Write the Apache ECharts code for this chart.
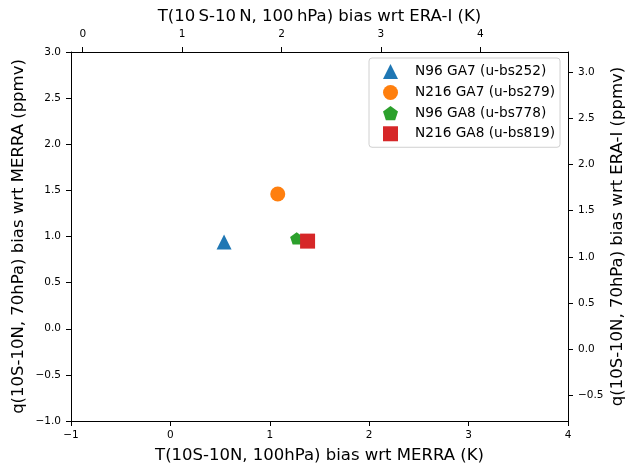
<!DOCTYPE html>
<html>
<head>
<meta charset="utf-8">
<script src="https://cdn.jsdelivr.net/npm/echarts@6/dist/echarts.min.js"></script>
<style>
html, body { margin: 0; padding: 0; background: #fff; }
#chart { width: 636px; height: 475px; }
</style>
</head>
<body>
<div id="chart"></div>
<script>
// runs: name, T bias wrt MERRA (K), q bias wrt MERRA (ppmv)
var runNames = ['N96 GA7 (u-bs252)', 'N216 GA7 (u-bs279)', 'N96 GA8 (u-bs778)', 'N216 GA8 (u-bs819)'];
var tBias = [0.54, 1.08, 1.27, 1.38];
var qBias = [0.94, 1.46, 0.98, 0.95];
var runColors = ['#1f77b4', '#ff7f0e', '#2ca02c', '#d62728'];
var pentagon = 'path://M0,-1L0.951,-0.309L0.588,0.809L-0.588,0.809L-0.951,-0.309Z';
var runSymbols = ['triangle', 'circle', pentagon, 'rect'];
var runSizes = [15, 15, 13, 15];

// secondary axes (ERA-I) ticks
var topTicks = [0, 1, 2, 3, 4];
var rightTicks = [-0.5, 0, 0.5, 1.0, 1.5, 2.0, 2.5, 3.0];

var FONT = 'DejaVu Sans';
var minus = function(s) { return String(s).replace('-', '\u2212'); };

var axisBase = function() {
	return {
		axisLine: { show: true, onZero: false, lineStyle: { color: '#000', width: 1 } },
		axisTick: { show: true, inside: false, length: 5, lineStyle: { color: '#000', width: 1 } },
		splitLine: { show: false },
		nameLocation: 'middle',
		nameMoveOverlap: false,
		nameTextStyle: { fontFamily: FONT, fontSize: 16.5, color: '#000' }
	};
};

var xBottom = Object.assign(axisBase(), {
	type: 'value', position: 'bottom', min: -1, max: 4, interval: 1,
	name: 'T(10S-10N, 100hPa) bias wrt MERRA (K)', nameGap: 26,
	axisLabel: { margin: 9, fontFamily: FONT, fontSize: 10.5, color: '#000',
		formatter: function(v) { return minus(v); } }
});
var xTop = Object.assign(axisBase(), {
	type: 'value', position: 'top', min: -0.118, max: 4.882,
	name: 'T(10\u2009S-10\u2009N, 100\u2009hPa) bias wrt ERA-I (K)', nameGap: 27,
	axisLabel: { margin: 12, fontFamily: FONT, fontSize: 10.5, color: '#000', customValues: topTicks,
		formatter: function(v) { return minus(v); } }
});
xTop.axisTick.customValues = topTicks;

var yLeft = Object.assign(axisBase(), {
	type: 'value', position: 'left', min: -1, max: 3, interval: 0.5,
	name: 'q(10S-10N, 70hPa) bias wrt MERRA (ppmv)', nameGap: 44, nameRotate: 90,
	axisLabel: { margin: 10, fontFamily: FONT, fontSize: 10.5, color: '#000',
		formatter: function(v) { return minus(v.toFixed(1)); } }
});
var yRight = Object.assign(axisBase(), {
	type: 'value', position: 'right', min: -0.78, max: 3.22,
	name: 'q(10S-10N, 70hPa) bias wrt ERA-I (ppmv)', nameGap: 41, nameRotate: 90,
	axisLabel: { margin: 10, fontFamily: FONT, fontSize: 10.5, color: '#000', customValues: rightTicks,
		formatter: function(v) { return minus(v.toFixed(1)); } }
});
yRight.axisTick.customValues = rightTicks;

var series = [];
for (var i = 0; i < runNames.length; i++) {
	series.push({
		name: runNames[i],
		type: 'scatter',
		xAxisIndex: 0,
		yAxisIndex: 0,
		symbol: runSymbols[i],
		symbolSize: runSizes[i],
		symbolKeepAspect: true,
		itemStyle: { color: runColors[i], opacity: 1 },
		emphasis: { disabled: true },
		data: [[tBias[i], qBias[i]]]
	});
}

var chart = echarts.init(document.getElementById('chart'), null, { renderer: 'canvas' });
chart.setOption({
	animation: false,
	backgroundColor: '#fff',
	grid: { left: 71, right: 68, top: 52, bottom: 54, containLabel: false, outerBoundsMode: 'none' },
	xAxis: [xBottom, xTop],
	yAxis: [yLeft, yRight],
	legend: {
		orient: 'vertical',
		right: 76,
		top: 58,
		padding: [6, 5, 6, 14],
		itemWidth: 15,
		itemHeight: 15,
		itemGap: 6,
		borderColor: '#d0d0d0',
		borderWidth: 1,
		borderRadius: 3,
		backgroundColor: 'rgba(255,255,255,0.8)',
		textStyle: { fontFamily: FONT, fontSize: 13.7, color: '#000', padding: [0, 0, 0, 12] },
		data: runNames.map(function(n, i) { return { name: n, icon: runSymbols[i] }; })
	},
	series: series
});
</script>
</body>
</html>
